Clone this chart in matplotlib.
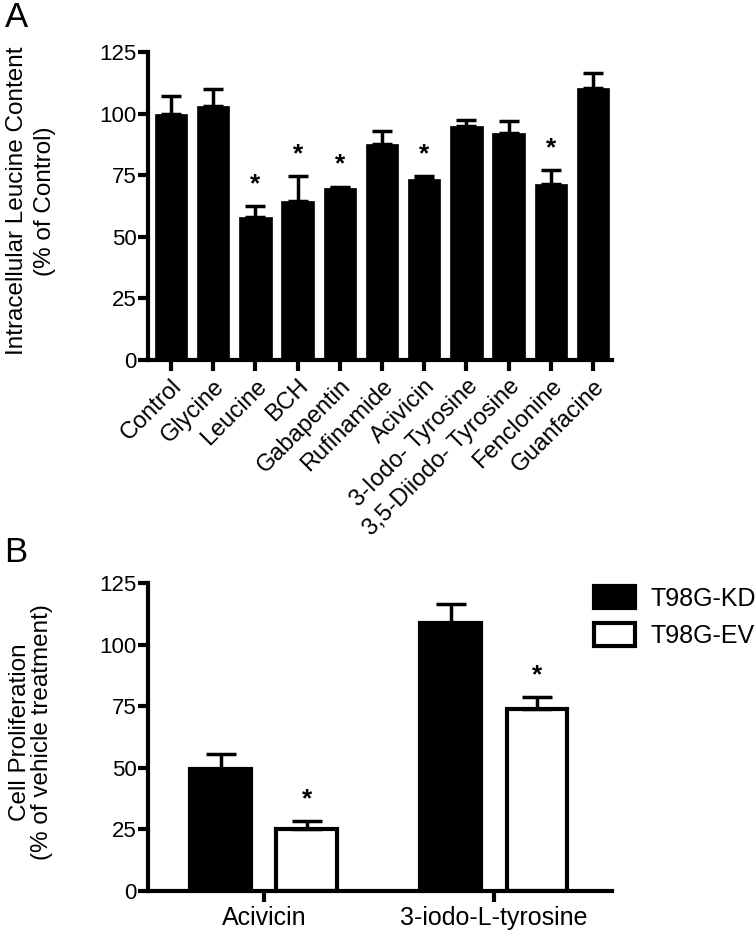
import numpy as np
import matplotlib
matplotlib.use("Agg")
import matplotlib.pyplot as plt
from matplotlib.patches import Patch

plt.rcParams['font.family'] = ['Liberation Sans', 'DejaVu Sans']
plt.rcParams['font.size'] = 16

# Panel A: intracellular leucine content (% of control)
compounds = ['Control', 'Glycine', 'Leucine', 'BCH', 'Gabapentin', 'Rufinamide',
             'Acivicin', '3-Iodo- Tyrosine', '3,5-Diiodo- Tyrosine', 'Fenclonine', 'Guanfacine']
leucine = [100, 103, 58, 64.5, 70, 87.5, 73.5, 95, 92, 71.5, 110.5]
leucine_err = [7, 7, 4.5, 10, 0.3, 5.5, 1, 2.5, 5, 5.5, 6]
leucine_sig = [False, False, True, True, True, False, True, False, False, True, False]

# Panel B: cell proliferation (% of vehicle treatment)
treatments = ['Acivicin', '3-iodo-L-tyrosine']
kd = [49.5, 108.8]
kd_err = [6, 7.7]
ev = [25.2, 73.9]
ev_err = [3.2, 4.8]
ev_sig = [True, True]

yticks = [0, 25, 50, 75, 100, 125]

fig = plt.figure(figsize=(7.56, 9.36), dpi=100)


def style_axes(ax, xsize):
    for s in ['top', 'right']:
        ax.spines[s].set_visible(False)
    for s in ['left', 'bottom']:
        ax.spines[s].set_linewidth(3)
    ax.tick_params(axis='y', length=7, width=3, pad=1, labelsize=16)
    ax.tick_params(axis='x', length=8, width=3, pad=3, labelsize=xsize)
    ax.set_ylim(0, 125)
    ax.set_yticks(yticks)


# ---- A ----
axA = fig.add_axes([148/756, 1 - 360/936, 464/756, 308/936])
xa = np.arange(len(compounds))
axA.bar(xa, leucine, width=0.77, color='black', edgecolor='black', linewidth=0.5)
axA.errorbar(xa, leucine, yerr=[np.zeros(len(xa)), leucine_err], fmt='none',
             ecolor='black', elinewidth=2.5, capsize=7, capthick=2.5)
for x, v, e, s in zip(xa, leucine, leucine_err, leucine_sig):
    if s:
        axA.text(x, v + e + 9, '*', ha='center', va='center', fontsize=19, fontweight='bold')
axA.set_xlim(-0.545, 10.45)
axA.set_xticks(xa)
axA.set_xticklabels(compounds, rotation=45, ha='right', rotation_mode='anchor')
style_axes(axA, 17)
fig.text(31/756, 1 - 201/936, 'Intracellular Leucine Content\n(% of Control)',
         rotation=90, ha='center', va='center', fontsize=17.5, linespacing=1.3)
fig.text(0.006, 0.999, 'A', fontsize=25, va='top', ha='left')

# ---- B ----
axB = fig.add_axes([148/756, 1 - 891/936, 464/756, 308/936])
xb = np.arange(len(treatments))
off = 0.187
w = 0.265
axB.bar(xb - off, kd, width=w, color='black', edgecolor='black', linewidth=3)
axB.bar(xb + off, ev, width=w, color='white', edgecolor='black', linewidth=3)
axB.errorbar(xb - off, kd, yerr=[np.zeros(2), kd_err], fmt='none',
             ecolor='black', elinewidth=2.5, capsize=11, capthick=2.5)
axB.errorbar(xb + off, ev, yerr=[np.zeros(2), ev_err], fmt='none',
             ecolor='black', elinewidth=2.5, capsize=11, capthick=2.5)
for x, v, e, s in zip(xb + off, ev, ev_err, ev_sig):
    if s:
        axB.text(x, v + e + 9, '*', ha='center', va='center', fontsize=19, fontweight='bold')
axB.set_xlim(-0.504, 1.513)
axB.set_xticks(xb)
axB.set_xticklabels(treatments)
style_axes(axB, 18)
fig.text(31/756, 1 - 732/936, 'Cell Proliferation\n(% of vehicle treatment)',
         rotation=90, ha='center', va='center', fontsize=17.5, linespacing=1.05)
handles = [Patch(facecolor='black', edgecolor='black', linewidth=3, label='T98G-KD'),
           Patch(facecolor='white', edgecolor='black', linewidth=3, label='T98G-EV')]
fig.legend(handles=handles, loc='upper left', bbox_to_anchor=(594/756, 1 - 586/936),
           frameon=False, handlelength=1.65, handleheight=1.0, labelspacing=0.5,
           handletextpad=0.6, borderpad=0, borderaxespad=0, fontsize=18)
fig.text(0.006, 1 - 536/936, 'B', fontsize=25, va='top', ha='left')

fig.savefig('out.png', dpi=100)
